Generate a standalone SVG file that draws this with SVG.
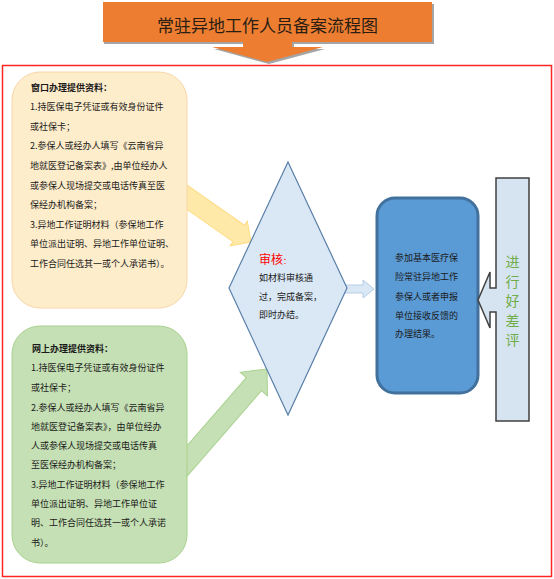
<svg xmlns="http://www.w3.org/2000/svg" width="554" height="579" viewBox="0 0 554 579">
<style>
.t{font-family:"Noto Sans CJK SC","Noto Sans",sans-serif;font-size:9px;fill:#1a1a1a}
.b{font-weight:bold}
</style>
<rect width="554" height="579" fill="#fff"/>
<g id="title">
<path d="M104,4 H434 V44 H294 V49 H325 L269,64 L214,49 H245 V44 H104 Z" fill="#7f7f7f" opacity="0.7"/>
<path d="M103,2 H432 V42 H292 V47 H323 L267,62 L212,47 H243 V42 H103 Z" fill="#ED7D31"/>
<text x="267.5" y="32" text-anchor="middle" font-family="Noto Sans CJK SC, sans-serif" font-size="17" fill="#2b1d12">常驻异地工作人员备案流程图</text>
</g>
<rect id="frame" x="2.5" y="65.5" width="549" height="511" fill="none" stroke="#FF2525" stroke-width="1.5"/>
<g id="connectors">
<path transform="translate(251,242) rotate(35)" d="M-95,-10 H-15 V-15 L0,0 L-15,15 V10 H-95 Z" fill="#FFE9A8" stroke="#FFDC85" stroke-width="1"/>
<path transform="translate(267,369) rotate(-49)" d="M-140,-10 H-20 V-18 L0,0 L-20,18 V10 H-140 Z" fill="#C5E0B4" stroke="#A9D18E" stroke-width="1"/>
<path d="M320,285 H363 V280 L374,289 L363,298 V293 H320 Z" fill="#DAE8F5" stroke="#B4CDE6" stroke-width="1"/>
</g>
<g id="window">
<rect x="12" y="72" width="175" height="236" rx="28" fill="#FEEDCB" stroke="#F9D6A8" stroke-width="1"/>
<text class="t b" x="31" y="91">窗口办理提供资料：</text>
<text class="t" x="30" y="110">1.持医保电子凭证或有效身份证件</text>
<text class="t" x="30" y="130">或社保卡；</text>
<text class="t" x="30" y="149">2.参保人或经办人填写《云南省异</text>
<text class="t" x="30" y="169">地就医登记备案表》,由单位经办人</text>
<text class="t" x="30" y="189">或参保人现场提交或电话传真至医</text>
<text class="t" x="30" y="208">保经办机构备案；</text>
<text class="t" x="30" y="228">3.异地工作证明材料（参保地工作</text>
<text class="t" x="30" y="247">单位派出证明、异地工作单位证明、</text>
<text class="t" x="30" y="267">工作合同任选其一或个人承诺书）。</text>
</g>
<g id="online">
<rect x="12" y="326" width="175" height="237" rx="28" fill="#C5E0B4" stroke="#A9D18E" stroke-width="1"/>
<text class="t b" x="32" y="352">网上办理提供资料：</text>
<text class="t" x="31" y="371">1.持医保电子凭证或有效身份证件</text>
<text class="t" x="31" y="391">或社保卡；</text>
<text class="t" x="31" y="411">2.参保人或经办人填写《云南省异</text>
<text class="t" x="31" y="430">地就医登记备案表》，由单位经办</text>
<text class="t" x="31" y="449">人或参保人现场提交或电话传真</text>
<text class="t" x="31" y="468">至医保经办机构备案；</text>
<text class="t" x="31" y="488">3.异地工作证明材料（参保地工作</text>
<text class="t" x="31" y="507">单位派出证明、异地工作单位证</text>
<text class="t" x="31" y="526">明、工作合同任选其一或个人承诺</text>
<text class="t" x="31" y="546">书）。</text>
</g>
<g id="review">
<path d="M288,162 L347,288 L288,415 L229,288 Z" fill="#DAE8F5" stroke="#5A7FA8" stroke-width="1.2"/>
<text x="259" y="264" font-family="Noto Sans CJK SC, sans-serif" font-size="12" fill="#FF0000">审核<tspan font-size="8">：</tspan></text>
<text class="t" x="259" y="281">如材料审核通</text>
<text class="t" x="259" y="300">过，完成备案，</text>
<text class="t" x="259" y="318">即时办结。</text>
</g>
<g id="result">
<rect x="377" y="198" width="101" height="195" rx="18" fill="#5B9BD5" stroke="#41719C" stroke-width="3"/>
<text class="t" x="395" y="261">参加基本医疗保</text>
<text class="t" x="395" y="280">险常驻异地工作</text>
<text class="t" x="395" y="300">参保人或者申报</text>
<text class="t" x="395" y="319">单位接收反馈的</text>
<text class="t" x="395" y="337">办理结果。</text>
</g>
<g id="evaluate">
<path d="M496,178 H529 V421 H496 V312 H490 V328 L478,300 L490,272 V288 H496 Z" fill="#D6E4F2" stroke="#404040" stroke-width="1.5"/>
<g font-family="Noto Sans CJK SC, sans-serif" font-size="14" fill="#70AD47" text-anchor="middle">
<text x="512.5" y="267">进</text>
<text x="512.5" y="287">行</text>
<text x="512.5" y="306">好</text>
<text x="512.5" y="326">差</text>
<text x="512.5" y="345">评</text>
</g>
</g>
</svg>
